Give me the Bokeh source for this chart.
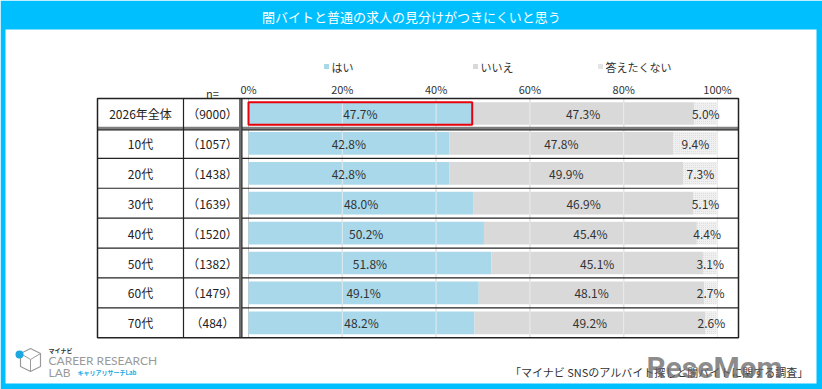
from bokeh.plotting import figure
from bokeh.models import Range1d, ColumnDataSource
from bokeh.core.properties import value
from bokeh.embed import file_html
from bokeh.resources import INLINE

# ---- data ----
categories = ["2026年全体", "10代", "20代", "30代", "40代", "50代", "60代", "70代"]
n_counts = [9000, 1057, 1438, 1639, 1520, 1382, 1479, 484]
yes = [47.7, 42.8, 42.8, 48.0, 50.2, 51.8, 49.1, 48.2]
no = [47.3, 47.8, 49.9, 46.9, 45.4, 45.1, 48.1, 49.2]
no_answer = [5.0, 9.4, 7.3, 5.1, 4.4, 3.1, 2.7, 2.6]
series_names = ["はい", "いいえ", "答えたくない"]
tick_values = [0, 20, 40, 60, 80, 100]
title_text = "闇バイトと普通の求人の見分けがつきにくいと思う"
source_text = "「マイナビ SNSのアルバイト探しと闇バイトに関する調査」"

W, H = 822, 389
FONT = value("Noto Sans CJK JP")
C_YES, C_NO, C_NA = "#A8D8EA", "#D9D9D9", "#F0F0F0"
CYAN = "#00BFFF"

# canvas geometry: 0% at x=248px, 100% at x=717px; rows 29.9px apart, first centred at 113px
X0, XS = 248.0, 4.69
Y0, YS = 113.0, 29.9


def X(px):
    return (px - X0) / XS


def Y(py):
    return (py - Y0) / YS


p = figure(width=W, height=H, x_range=Range1d(X(0), X(W)), y_range=Range1d(Y(H), Y(0)),
           x_axis_type=None, y_axis_type=None, toolbar_location=None,
           output_backend="svg", min_border=0)
p.grid.visible = False
p.outline_line_color = None
p.background_fill_color = "white"
p.border_fill_color = "white"

# frame and title band
p.quad(left=X(0), right=X(W), top=Y(0), bottom=Y(H), fill_color=CYAN, line_color=None)
p.quad(left=X(5), right=X(816), top=Y(29), bottom=Y(383), fill_color="white", line_color=None)
p.text(x=[X(W / 2)], y=[Y(16)], text=[title_text], text_font=FONT, text_font_size="13px",
       text_color="white", text_align="center", text_baseline="middle")

rows = list(range(len(categories)))
left_na = [a + b for a, b in zip(yes, no)]
end_na = [a + b + c for a, b, c in zip(yes, no, no_answer)]

src = ColumnDataSource(dict(
    row=rows, yes=yes, no=no, na=no_answer, left_no=list(yes), left_na=left_na, end_na=end_na,
    zero=[0] * len(rows),
    yes_mid=[v / 2 for v in yes],
    no_mid=[a + b / 2 for a, b in zip(yes, no)],
    na_mid=[a + c / 2 for a, c in zip(left_na, no_answer)],
    yes_lbl=[f"{v:.1f}%" for v in yes],
    no_lbl=[f"{v:.1f}%" for v in no],
    na_lbl=[f"{v:.1f}%" for v in no_answer],
    cat=categories,
    nlbl=[f"（{v}）" for v in n_counts],
))

# gridlines behind the bars
top_t, bot_t = -0.5, len(rows) - 0.5
p.segment(x0=tick_values, x1=tick_values, y0=[top_t] * 6, y1=[bot_t] * 6,
          line_color="#C8C8C8", line_width=1)

BH = 0.76
p.hbar(y="row", left="zero", right="yes", height=BH, source=src, fill_color=C_YES, line_color=None)
p.hbar(y="row", left="left_no", right="left_na", height=BH, source=src, fill_color=C_NO, line_color=None)
p.hbar(y="row", left="left_na", right="end_na", height=BH, source=src, fill_color=C_NA,
       line_color=None, hatch_pattern="dot", hatch_color="#D6D6D6", hatch_scale=2,
       hatch_alpha=0.9)

# faint gridlines across the bars
p.segment(x0=tick_values[1:], x1=tick_values[1:], y0=[top_t] * 5, y1=[bot_t] * 5,
          line_color="#F0F0F0", line_width=1, line_alpha=0.8)

# highlight box on the overall row
p.quad(left=[0], right=[yes[0]], top=[-BH / 2], bottom=[BH / 2], fill_color=None,
       line_color="#E8000B", line_width=2)

# value labels
for col, mid in (("yes_lbl", "yes_mid"), ("no_lbl", "no_mid"), ("na_lbl", "na_mid")):
    p.text(x=mid, y="row", text=col, source=src, text_font=FONT, text_font_size="12px",
           text_color="#333333", text_align="center", text_baseline="middle")

# table: category and n columns
p.text(x=X(140), y="row", text="cat", source=src, text_font=FONT, text_font_size="12px",
       text_color="#222222", text_align="center", text_baseline="middle")
p.text(x=X(212), y="row", text="nlbl", source=src, text_font=FONT, text_font_size="12px",
       text_color="#222222", text_align="center", text_baseline="middle")

tl, tr = X(97), X(738)
# row separators
seps = [r + 0.5 for r in rows[1:-1]]
p.segment(x0=[tl] * len(seps), x1=[tr] * len(seps), y0=seps, y1=seps, line_color="#222222", line_width=1.2)
p.segment(x0=[tl], x1=[tr], y0=[0.5], y1=[0.5], line_color="#7F7F7F", line_width=3.5)
p.segment(x0=[tl], x1=[tr], y0=[0.5 + 0.05], y1=[0.5 + 0.05], line_color="#222222", line_width=1)
# column separators and outer border
p.segment(x0=[X(183)], x1=[X(183)], y0=[top_t], y1=[bot_t], line_color="#222222", line_width=1.2)
p.segment(x0=[X(240)], x1=[X(240)], y0=[top_t], y1=[bot_t], line_color="#6F6F6F", line_width=3)
p.segment(x0=[X(241.5)], x1=[X(241.5)], y0=[top_t], y1=[bot_t], line_color="#222222", line_width=1)
p.quad(left=[tl], right=[tr], top=[top_t], bottom=[bot_t], fill_color=None,
       line_color="#222222", line_width=1.5)

# axis tick labels and n=
p.text(x=tick_values, y=[Y(88)] * 6, text=[f"{t}%" for t in tick_values], text_font=FONT,
       text_font_size="11px", text_color="#333333", text_align="center", text_baseline="middle")
p.text(x=[X(212)], y=[Y(92)], text=["n="], text_font=FONT, text_font_size="11px",
       text_color="#333333", text_align="center", text_baseline="middle")

# legend
leg_x = [X(326), X(475), X(600)]
leg_c = [C_YES, C_NO, "#E4E4E4"]
p.scatter(x=leg_x, y=[Y(66)] * 3, marker="square", size=5, fill_color=leg_c, line_color=None)
p.text(x=[x + X(5) - X(0) for x in leg_x], y=[Y(66)] * 3, text=series_names, text_font=FONT,
       text_font_size="11px", text_color="#333333", text_align="left", text_baseline="middle")

# footer source
p.text(x=[X(808)], y=[Y(371)], text=[source_text], text_font=FONT, text_font_size="11px",
       text_color="#333333", text_align="right", text_baseline="middle")

# organisation mark: outlined cube with a blue dot
p.patch(x=[X(x) for x in (30, 40, 40, 30, 20, 20)], y=[Y(y) for y in (348, 353, 366, 371, 366, 353)],
        fill_color=None, line_color="#9A9A9A", line_width=1.2)
p.multi_line(xs=[[X(20), X(30), X(40)], [X(30), X(30)]], ys=[[Y(353), Y(359), Y(353)], [Y(359), Y(371)]],
             line_color="#9A9A9A", line_width=1)
p.scatter(x=[X(19)], y=[Y(354)], size=8, fill_color="#1CA7E0", line_color=None)
p.text(x=[X(48)], y=[Y(350)], text=["マイナビ"], text_font=FONT, text_font_size="6px",
       text_color="#333333", text_baseline="middle", text_font_style="bold")
p.text(x=[X(48)], y=[Y(360)], text=["CAREER RESEARCH"], text_font=value("Lato"),
       text_font_size="12px", text_color="#9A9A9A", text_baseline="middle")
p.text(x=[X(48)], y=[Y(372)], text=["LAB"], text_font=value("Lato"),
       text_font_size="12px", text_color="#9A9A9A", text_baseline="middle")
p.text(x=[X(77)], y=[Y(372)], text=["キャリアリサーチLab"], text_font=FONT,
       text_font_size="6px", text_color="#1CA7E0", text_baseline="middle", text_font_style="bold")

# site watermark
p.text(x=[X(714)], y=[Y(367)], text=["ReseMom"], text_font=value("Roboto"), text_font_size="30px",
       text_font_style="bold", text_color="#666666", text_alpha=0.75, text_align="center",
       text_baseline="middle")

open("out.html", "w").write(file_html(p, INLINE))
